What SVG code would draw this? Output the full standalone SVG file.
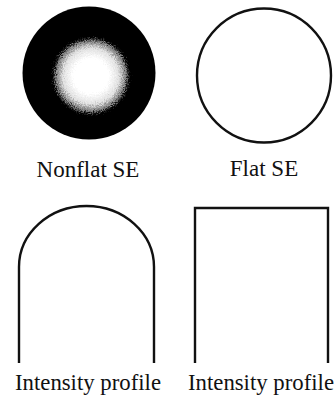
<svg xmlns="http://www.w3.org/2000/svg" width="335" height="399" viewBox="0 0 335 399">
  <style>
    .lbl { font-family: "Liberation Serif", "Times New Roman", serif; font-size: 23px; fill: #111; text-anchor: middle; }
    .ln { fill: none; stroke: #111; stroke-width: 2.4; }
  </style>
  <defs>
    <radialGradient id="blob" cx="0.5" cy="0.5" r="0.5">
      <stop offset="0" stop-color="#fff"/>
      <stop offset="0.45" stop-color="#fff"/>
      <stop offset="0.7" stop-color="#e0e0e0"/>
      <stop offset="0.88" stop-color="#777"/>
      <stop offset="1" stop-color="#000" stop-opacity="0"/>
    </radialGradient>
    <filter id="rough" x="-20%" y="-20%" width="140%" height="140%">
      <feTurbulence type="fractalNoise" baseFrequency="0.9" numOctaves="2" seed="3" result="n"/>
      <feDisplacementMap in="SourceGraphic" in2="n" scale="9" xChannelSelector="R" yChannelSelector="G"/>
    </filter>
  </defs>
  <rect width="335" height="399" fill="#fff"/>
  <g id="nonflat-se">
    <circle cx="89" cy="73" r="66.5" fill="#000"/>
    <circle cx="91" cy="76" r="40" fill="url(#blob)" filter="url(#rough)"/>
    <text class="lbl" x="88" y="177">Nonflat SE</text>
  </g>
  <g id="flat-se">
    <circle cx="264" cy="75.5" r="67" class="ln"/>
    <text class="lbl" x="264" y="176">Flat SE</text>
  </g>
  <g id="nonflat-profile">
    <path class="ln" d="M19,363 V267 A67.5,61 0 0 1 154,267 V363"/>
    <text class="lbl" x="88" y="390" textLength="146" lengthAdjust="spacingAndGlyphs">Intensity profile</text>
  </g>
  <g id="flat-profile">
    <path class="ln" d="M195,363 V208 H328 V363"/>
    <text class="lbl" x="261" y="390" textLength="146" lengthAdjust="spacingAndGlyphs">Intensity profile</text>
  </g>
</svg>
